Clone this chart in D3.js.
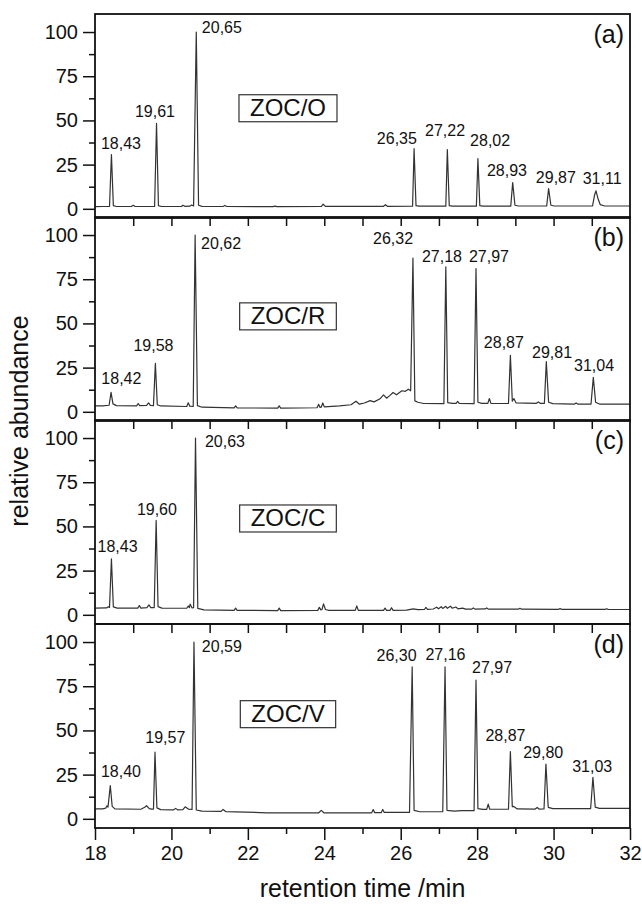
<!DOCTYPE html>
<html>
<head>
<meta charset="utf-8">
<title>ZOC chromatograms</title>
<script src="https://d3js.org/d3.v7.min.js"></script>
<style>
  body { margin: 0; background: #fff; }
  svg { display: block; font-family: "Liberation Sans", Arial, sans-serif; }
  .tick line { stroke: #111; stroke-width: 1.5; }
  .tick text { font-size: 20px; fill: #111; }
  .frame { fill: none; stroke: #111; stroke-width: 1.8; }
  .trace { fill: none; stroke: #333; stroke-width: 1.2; stroke-linejoin: round; }
  .peak { font-size: 16px; fill: #111; text-anchor: middle; }
  .tag { font-size: 25px; fill: #111; text-anchor: end; }
  .name { font-size: 24px; fill: #111; text-anchor: middle; }
  .namebox { fill: none; stroke: #333; stroke-width: 1.2; }
  .title { font-size: 25px; fill: #111; text-anchor: middle; }
</style>
</head>
<body>
<svg width="642" height="904"></svg>
<script>
// 样品名称与面板标记
const sampleNames = ["ZOC/O", "ZOC/R", "ZOC/C", "ZOC/V"];
const panelTags = ["(a)", "(b)", "(c)", "(d)"];
const timeTicks = [18, 20, 22, 24, 26, 28, 30, 32];
const abundanceTicks = [0, 25, 50, 75, 100];

// 色谱曲线：[保留时间 /min, 相对丰度]
const traceO = [
  [18.00,1.2],[18.20,1.3],[18.38,1.4],[18.43,30.7],[18.48,1.8],[18.56,1.3],
  [18.95,1.3],[19.00,2.0],[19.05,1.3],
  [19.56,1.3],[19.61,48.3],[19.66,1.8],[19.74,1.3],
  [20.26,1.3],[20.30,2.0],[20.35,1.4],[20.48,1.5],[20.53,2.2],[20.58,1.6],
  [20.65,100],[20.71,2.0],[20.80,1.4],
  [21.35,1.3],[21.40,1.9],[21.45,1.3],
  [22.66,1.2],[22.71,1.5],[22.76,1.2],
  [23.92,1.3],[23.97,2.6],[24.03,1.4],
  [25.55,1.4],[25.60,2.3],[25.65,1.4],
  [26.31,1.5],[26.35,34],[26.40,1.8],[26.48,1.5],
  [27.18,1.5],[27.22,33.5],[27.27,1.8],[27.35,1.5],
  [27.98,1.5],[28.02,28.4],[28.07,1.8],[28.15,1.5],
  [28.88,1.5],[28.93,14.8],[28.99,2.0],[29.08,1.6],
  [29.82,1.6],[29.87,11.4],[29.93,2.0],[30.02,1.6],
  [31.02,1.7],[31.07,7.5],[31.11,10.2],[31.16,6.0],[31.22,2.4],[31.32,1.7],
  [32.00,1.6]
];
const traceR = [
  [18.00,3.4],[18.20,3.4],[18.37,3.7],[18.42,11],[18.47,4.5],[18.56,3.5],
  [19.09,3.4],[19.13,4.7],[19.17,3.5],[19.35,3.6],[19.40,5.0],[19.45,3.6],
  [19.53,3.5],[19.58,27.4],[19.63,4.0],[19.72,3.3],
  [20.40,3.0],[20.44,5.1],[20.48,3.2],[20.57,3.0],
  [20.62,100],[20.68,3.5],[20.80,2.6],
  [21.64,2.2],[21.68,3.4],[21.72,2.2],
  [22.78,2.1],[22.82,3.4],[22.86,2.1],
  [23.81,2.3],[23.85,4.2],[23.89,2.5],[23.92,2.6],[23.96,5.0],[24.00,2.8],
  [24.40,3.4],[24.70,4.0],[24.83,6.0],[24.92,4.3],[25.05,5.0],[25.20,6.3],[25.30,5.6],
  [25.45,7.2],[25.55,9.6],[25.63,7.7],[25.72,9.3],[25.80,10.9],[25.89,9.6],
  [26.03,11.9],[26.12,11.6],[26.20,12.8],[26.26,11.9],
  [26.32,87],[26.37,6.2],[26.45,5.4],[26.60,4.7],
  [27.13,4.6],[27.18,82],[27.23,5.2],[27.35,4.8],[27.45,4.8],[27.49,5.9],[27.53,4.8],
  [27.92,4.6],[27.97,81],[28.02,5.4],[28.12,4.8],
  [28.28,4.8],[28.32,7.5],[28.36,4.8],
  [28.82,4.7],[28.87,32],[28.92,6.0],[28.96,7.5],[29.02,5.0],
  [29.55,4.8],[29.60,5.6],[29.65,4.8],
  [29.76,4.8],[29.81,28.4],[29.87,5.4],[29.98,4.6],
  [30.55,4.4],[30.59,5.0],[30.63,4.4],
  [30.98,4.4],[31.04,19.5],[31.10,5.4],[31.20,4.4],
  [32.00,4.3]
];
const traceC = [
  [18.00,3.8],[18.30,3.9],[18.35,4.6],[18.38,4.2],[18.43,31.6],[18.48,4.5],[18.58,3.8],
  [19.12,3.8],[19.16,5.3],[19.20,3.8],[19.36,4.1],[19.41,5.6],[19.46,4.1],
  [19.55,4.1],[19.60,53.4],[19.65,4.6],[19.75,3.8],
  [20.40,3.7],[20.44,5.0],[20.47,4.0],[20.49,6.0],[20.54,3.9],[20.58,4.0],
  [20.63,100],[20.69,3.6],[20.85,2.8],
  [21.64,2.5],[21.68,3.8],[21.72,2.5],
  [22.78,2.4],[22.82,3.8],[22.86,2.4],
  [23.83,2.5],[23.87,4.2],[23.91,2.8],[23.94,3.0],[23.98,6.2],[24.03,3.0],[24.12,2.5],
  [24.81,2.5],[24.85,5.0],[24.89,2.5],
  [25.55,2.5],[25.59,3.8],[25.63,2.5],[25.72,2.5],[25.76,4.0],[25.80,2.5],
  [26.15,2.6],[26.33,3.4],[26.45,2.9],
  [26.62,3.0],[26.66,4.2],[26.70,3.1],[26.85,3.3],[26.94,4.3],[26.99,3.4],
  [27.06,4.6],[27.10,3.6],[27.18,4.8],[27.22,3.7],[27.30,4.9],[27.35,3.7],
  [27.44,4.4],[27.50,3.4],[27.62,3.8],[27.70,3.2],
  [27.86,3.2],[27.90,3.9],[27.94,3.2],
  [28.21,3.3],[28.25,3.9],[28.29,3.2],
  [29.08,3.2],[29.12,3.7],[29.16,3.2],
  [30.13,3.1],[30.17,3.5],[30.21,3.1],
  [31.35,3.1],[31.39,3.4],[31.43,3.1],
  [32.00,3.0]
];
const traceV = [
  [18.00,5.6],[18.20,5.6],[18.28,6.0],[18.31,7.3],[18.34,6.6],[18.40,18.8],[18.45,7.0],[18.52,5.6],
  [19.20,5.4],[19.30,6.5],[19.35,7.4],[19.42,5.8],[19.48,5.5],
  [19.53,5.5],[19.57,37.7],[19.62,6.2],[19.72,5.2],
  [20.05,5.0],[20.11,5.9],[20.17,5.0],[20.30,5.2],[20.36,6.8],[20.45,5.4],
  [20.54,5.3],[20.59,100],[20.65,5.0],[20.80,4.3],
  [21.30,4.2],[21.35,5.3],[21.42,4.1],
  [22.50,3.4],[23.85,3.3],[23.92,4.8],[23.99,3.4],
  [25.00,3.3],[25.24,3.4],[25.28,5.2],[25.32,3.5],[25.49,3.5],[25.53,5.3],[25.57,3.6],
  [26.23,3.6],[26.30,86],[26.35,4.8],[26.50,4.0],
  [27.10,4.0],[27.16,86],[27.21,4.8],[27.40,4.4],[27.60,4.6],
  [27.92,4.6],[27.97,78.5],[28.02,5.8],[28.15,5.3],
  [28.25,5.3],[28.29,8.3],[28.33,5.4],
  [28.82,5.4],[28.87,38],[28.92,6.8],[28.96,7.0],[29.05,5.6],
  [29.52,5.5],[29.57,6.4],[29.62,5.5],
  [29.75,5.6],[29.80,31],[29.86,6.5],[29.98,5.8],
  [30.60,5.8],[30.97,5.8],[31.03,23.5],[31.09,6.6],[31.20,5.9],
  [32.00,5.9]
];

// 峰标注：[文字, 保留时间, 相对丰度]（文字基线所在的数据坐标）
const peaksO = [
  ["18,43",18.68,34],["19,61",19.57,52.2],["20,65",21.32,99.3],
  ["26,35",25.90,36.9],["27,22",27.16,41.4],["28,02",28.34,35.8],
  ["28,93",28.78,18.7],["29,87",30.06,14.7],["31,11",31.27,14.2]
];
const peaksR = [
  ["18,42",18.69,16],["19,58",19.53,34.2],["20,62",21.30,92],
  ["26,32",25.80,94.7],["27,18",27.08,84.8],["27,97",28.31,84.8],
  ["28,87",28.70,36],["29,81",29.96,30.2],["31,04",31.06,23.3]
];
const peaksC = [
  ["18,43",18.59,35.4],["19,60",19.62,56.3],["20,63",21.40,94.8]
];
const peaksV = [
  ["18,40",18.68,23.5],["19,57",19.84,42.8],["20,59",21.32,94.2],
  ["26,30",25.89,89.4],["27,16",27.17,90],["27,97",28.39,82.3],
  ["28,87",28.74,44],["29,80",29.73,34.5],["31,03",31.01,26.3]
];

// 样品名称框中心位置：[保留时间, 相对丰度]
const nameAnchors = [[23.05,57.4],[23.05,54.5],[23.05,55],[23.05,59.7]];

const traces = [traceO, traceR, traceC, traceV];
const peakLabels = [peaksO, peaksR, peaksC, peaksV];

const svg = d3.select("svg");
const left = 95, right = 630;
const panelTops = [14, 217, 420, 624];
const panelH = 204;

const x = d3.scaleLinear().domain([18, 32]).range([left, right]);

const line = d3.line();

panelTops.forEach((top, i) => {
    const y = d3.scaleLinear().domain([-5.2, 110.2]).range([top + panelH, top]);
    const g = svg.append("g");

    g.append("clipPath").attr("id", "clip" + i)
        .append("rect").attr("x", left).attr("y", top)
        .attr("width", right - left).attr("height", panelH);

    // 色谱曲线
    g.append("path")
        .datum(traces[i])
        .attr("class", "trace")
        .attr("clip-path", `url(#clip${i})`)
        .attr("d", line.x(d => x(d[0])).y(d => y(d[1])));

    // 纵轴主刻度与次刻度
    g.append("g").attr("transform", `translate(${left},0)`)
        .call(d3.axisLeft(y).tickValues(abundanceTicks).tickSize(12).tickPadding(5))
        .call(a => a.select(".domain").remove());
    g.append("g").attr("transform", `translate(${left},0)`)
        .call(d3.axisLeft(y).tickValues([12.5, 37.5, 62.5, 87.5]).tickSize(6).tickFormat(""))
        .call(a => a.select(".domain").remove());

    // 面板之间的刻度（向下）
    if (i > 0) {
        g.append("g").attr("transform", `translate(0,${top})`)
            .call(d3.axisBottom(x).tickValues(d3.range(19, 32, 1)).tickSize(9).tickFormat(""))
            .call(a => a.select(".domain").remove());
    }

    // 边框
    g.append("rect").attr("class", "frame")
        .attr("x", left).attr("y", top)
        .attr("width", right - left).attr("height", panelH);

    // 峰标注
    g.selectAll("text.peak")
        .data(peakLabels[i])
        .enter().append("text")
        .attr("class", "peak")
        .attr("x", d => x(d[1]))
        .attr("y", d => y(d[2]))
        .text(d => d[0]);

    // 面板标记
    g.append("text").attr("class", "tag")
        .attr("x", right - 6).attr("y", top + 29)
        .text(panelTags[i]);

    // 样品名称 + 方框
    const nm = g.append("text").attr("class", "name")
        .attr("x", x(nameAnchors[i][0]))
        .attr("y", y(nameAnchors[i][1]))
        .attr("dy", "0.35em")
        .text(sampleNames[i]);
    const bb = nm.node().getBBox();
    g.insert("rect", "text.name").attr("class", "namebox")
        .attr("x", bb.x - 11).attr("y", bb.y + 1)
        .attr("width", bb.width + 22).attr("height", bb.height);
});

// 底部横轴
const bottom = panelTops[3] + panelH;
svg.append("g").attr("transform", `translate(0,${bottom})`)
    .call(d3.axisBottom(x).tickValues(timeTicks).tickSize(12).tickPadding(6))
    .call(a => a.select(".domain").remove());
svg.append("g").attr("transform", `translate(0,${bottom})`)
    .call(d3.axisBottom(x).tickValues(d3.range(19, 32, 2)).tickSize(6).tickFormat(""))
    .call(a => a.select(".domain").remove());

// 坐标轴标题
svg.append("text").attr("class", "title")
    .attr("x", (left + right) / 2).attr("y", 897)
    .text("retention time /min");
svg.append("text").attr("class", "title")
    .attr("transform", `translate(28,${(panelTops[0] + bottom) / 2}) rotate(-90)`)
    .text("relative abundance");
</script>
</body>
</html>
